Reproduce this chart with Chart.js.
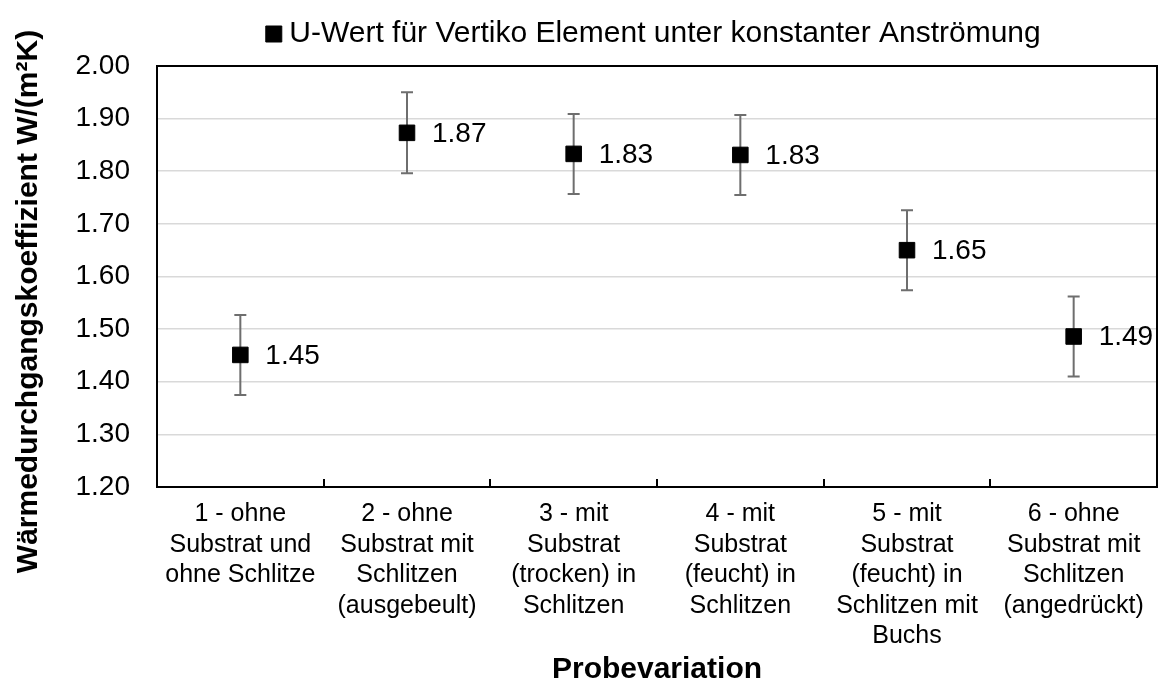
<!DOCTYPE html>
<html>
<head>
<meta charset="utf-8">
<script src="https://cdn.jsdelivr.net/npm/chart.js@4.4.1/dist/chart.umd.min.js"></script>
<style>
  html, body { margin: 0; padding: 0; background: #fff; }
  #wrap { width: 1169px; height: 688px; }
</style>
</head>
<body>
<div id="wrap"><canvas id="chart" width="1169" height="688"></canvas></div>
<script>
// categories (multi-line x labels)
const categories = [
    ['1 - ohne', 'Substrat und', 'ohne Schlitze'],
    ['2 - ohne', 'Substrat mit', 'Schlitzen', '(ausgebeult)'],
    ['3 - mit', 'Substrat', '(trocken) in', 'Schlitzen'],
    ['4 - mit', 'Substrat', '(feucht) in', 'Schlitzen'],
    ['5 - mit', 'Substrat', '(feucht) in', 'Schlitzen mit', 'Buchs'],
    ['6 - ohne', 'Substrat mit', 'Schlitzen', '(angedrückt)']
];
const uValues = [1.451, 1.873, 1.833, 1.831, 1.650, 1.486];
const uErrors = [0.076, 0.077, 0.076, 0.076, 0.076, 0.076];
const seriesName = 'U-Wert für Vertiko Element unter konstanter Anströmung';
const yTitle = 'Wärmedurchgangskoeffizient W/(m²K)';
const xTitle = 'Probevariation';
const yMin = 1.2, yMax = 2.0, yStep = 0.1;

Chart.defaults.font.family = '"Liberation Sans", Arial, sans-serif';
Chart.defaults.color = '#000';

////////////////////////////////////////////////////////////////////////////////

// frame on top / right + small inside ticks between categories
const framePlugin = {
    id: 'frame',
    beforeDatasetsDraw(chart) {
        const {ctx, chartArea: a, scales: {x}} = chart;
        ctx.save();
        ctx.strokeStyle = '#000';
        ctx.lineWidth = 2;
        ctx.beginPath();
        ctx.moveTo(a.left, a.top); ctx.lineTo(a.right, a.top); ctx.lineTo(a.right, a.bottom);
        const half = (x.getPixelForValue(1) - x.getPixelForValue(0)) / 2;
        for (let i = 1; i < categories.length; i++) {
            const px = Math.round(x.getPixelForValue(i) - half);
            ctx.moveTo(px, a.bottom); ctx.lineTo(px, a.bottom - 8);
        }
        ctx.stroke();
        ctx.restore();
    }
};

const errorBarPlugin = {
    id: 'errorBars',
    beforeDatasetsDraw(chart) {
        const {ctx, scales: {x, y}} = chart;
        ctx.save();
        ctx.strokeStyle = '#6e6e6e';
        ctx.lineWidth = 2;
        uValues.forEach((v, i) => {
            const px = x.getPixelForValue(i);
            const top = y.getPixelForValue(v + uErrors[i]);
            const bot = y.getPixelForValue(v - uErrors[i]);
            ctx.beginPath();
            ctx.moveTo(px, top); ctx.lineTo(px, bot);
            ctx.moveTo(px - 6, top); ctx.lineTo(px + 6, top);
            ctx.moveTo(px - 6, bot); ctx.lineTo(px + 6, bot);
            ctx.stroke();
        });
        ctx.restore();
    }
};

const valueLabelPlugin = {
    id: 'valueLabels',
    afterDatasetsDraw(chart) {
        const {ctx} = chart;
        const meta = chart.getDatasetMeta(0);
        ctx.save();
        ctx.font = '28px "Liberation Sans", Arial, sans-serif';
        ctx.fillStyle = '#000';
        ctx.textAlign = 'left';
        ctx.textBaseline = 'middle';
        meta.data.forEach((pt, i) => {
            ctx.fillText(uValues[i].toFixed(2), pt.x + 25, pt.y + 1);
        });
        ctx.restore();
    }
};

////////////////////////////////////////////////////////////////////////////////

const ctx = document.getElementById('chart').getContext('2d');
const chart = new Chart(ctx, {
    type: 'line',
    data: {
        labels: categories,
        datasets: [{
            label: seriesName,
            data: uValues,
            showLine: false,
            pointStyle: 'rect',
            pointRadius: 11,
            pointHoverRadius: 11,
            pointBackgroundColor: '#000',
            pointBorderColor: '#000',
            pointBorderWidth: 1,
            backgroundColor: '#000',
            borderColor: '#000'
        }]
    },
    options: {
        responsive: false,
        animation: false,
        events: [],
        layout: { padding: { top: 9, right: 6, bottom: 0, left: 0 } },
        plugins: {
            legend: {
                position: 'top',
                fullSize: false,
                labels: {
                    usePointStyle: true,
                    pointStyle: 'rect',
                    boxWidth: 1,
                    boxHeight: 16,
                    padding: 10,
                    font: { size: 30 },
                    color: '#000'
                }
            },
            // invisible spacer between legend and plot area
            subtitle: {
                display: true,
                text: '',
                weight: 500,
                font: { size: 1, lineHeight: 1 },
                padding: { top: 6, bottom: 0 }
            },
            tooltip: { enabled: false }
        },
        scales: {
            x: {
                offset: true,
                grid: { display: false, offset: true },
                border: { display: true, color: '#000', width: 2 },
                ticks: {
                    autoSkip: false,
                    maxRotation: 0,
                    minRotation: 0,
                    padding: 4,
                    font: { size: 25, lineHeight: 1.22 },
                    color: '#000'
                },
                title: {
                    display: true,
                    text: xTitle,
                    font: { size: 30, weight: 'bold', lineHeight: 1.2 },
                    padding: { top: 0, bottom: 0 },
                    color: '#000'
                },
                afterFit(scale) { scale.height = 201; }
            },
            y: {
                min: yMin,
                max: yMax,
                grid: { color: '#d9d9d9', lineWidth: 1.5, drawTicks: false },
                border: { display: true, color: '#000', width: 2 },
                ticks: {
                    stepSize: yStep,
                    padding: 27,
                    font: { size: 28 },
                    color: '#000',
                    callback: (v) => Number(v).toFixed(2)
                },
                title: {
                    display: true,
                    // trailing spaces shift the visible text down like in the reference
                    text: yTitle + '      ',
                    font: { size: 30, weight: 'bold', lineHeight: 1.2 },
                    padding: { top: 11, bottom: 0 },
                    color: '#000'
                },
                afterFit(scale) { scale.width = 157; }
            }
        }
    },
    plugins: [framePlugin, errorBarPlugin, valueLabelPlugin]
});
</script>
</body>
</html>
